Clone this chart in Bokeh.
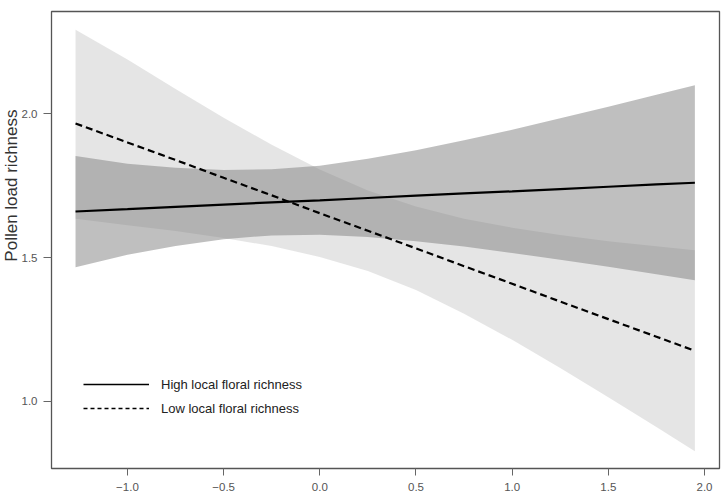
from bokeh.plotting import figure
from bokeh.models import (Range1d, FixedTicker, Title, Legend, LegendItem, ColumnDataSource)
from bokeh.embed import file_html
from bokeh.resources import INLINE

# ---- data ----
x_grid = [-1.27, -1.0, -0.75, -0.5, -0.25, 0.0, 0.25, 0.5, 0.75, 1.0, 1.25, 1.5, 1.75, 1.95]

# High local floral richness (solid line, darker band)
high_fit = [1.660, 1.668, 1.676, 1.684, 1.692, 1.699, 1.707, 1.715, 1.723, 1.730, 1.738, 1.746, 1.754, 1.760]
high_lower = [1.466, 1.510, 1.540, 1.564, 1.577, 1.579, 1.571, 1.557, 1.538, 1.516, 1.492, 1.468, 1.442, 1.421]
high_upper = [1.853, 1.826, 1.812, 1.804, 1.807, 1.819, 1.843, 1.873, 1.908, 1.944, 1.984, 2.024, 2.066, 2.099]

# Low local floral richness (dashed line, lighter band)
low_fit = [1.966, 1.900, 1.839, 1.777, 1.716, 1.654, 1.593, 1.532, 1.470, 1.409, 1.347, 1.286, 1.225, 1.176]
low_lower = [1.635, 1.612, 1.592, 1.568, 1.540, 1.502, 1.453, 1.387, 1.305, 1.214, 1.116, 1.015, 0.911, 0.827]
low_upper = [2.292, 2.188, 2.086, 1.986, 1.892, 1.806, 1.733, 1.677, 1.635, 1.604, 1.578, 1.557, 1.539, 1.525]

x_ticks = [-1.0, -0.5, 0.0, 0.5, 1.0, 1.5, 2.0]
x_tick_labels = ["\u22121.0", "\u22120.5", "0.0", "0.5", "1.0", "1.5", "2.0"]
y_ticks = [1.0, 1.5, 2.0]
y_tick_labels = ["1.0", "1.5", "2.0"]

series_labels = ["High local floral richness", "Low local floral richness"]
y_title = "Pollen load richness"

FONT = "Liberation Sans"

p = figure(width=723, height=504, output_backend="svg", toolbar_location=None,
           x_range=Range1d(-1.395, 2.078), y_range=Range1d(0.767, 2.355),
           min_border_left=51, min_border_right=4, min_border_top=11, min_border_bottom=36)
p.background_fill_color = "white"
p.border_fill_color = "white"
p.xgrid.visible = False
p.ygrid.visible = False
p.outline_line_color = "#555555"
p.outline_line_width = 1.3

src = ColumnDataSource(dict(x=x_grid, hf=high_fit, hl=high_lower, hu=high_upper,
                            lf=low_fit, ll=low_lower, lu=low_upper))

p.varea(x="x", y1="ll", y2="lu", source=src, fill_color="#cccccc", fill_alpha=0.5)
p.varea(x="x", y1="hl", y2="hu", source=src, fill_color="#7f7f7f", fill_alpha=0.5)
p.line(x="x", y="hf", source=src, line_color="black", line_width=2.2)
p.line(x="x", y="lf", source=src, line_color="black", line_width=2.2, line_dash="7 4")

# legend-only renderers (thinner lines as in the reference legend), hidden in the plot
r_leg1 = p.line(x="x", y="hf", source=src, line_color="black", line_width=1.4, visible=False)
r_leg2 = p.line(x="x", y="lf", source=src, line_color="black", line_width=1.4,
                line_dash="4 3", visible=False)

legend = Legend(items=[LegendItem(label=series_labels[0], renderers=[r_leg1]),
                       LegendItem(label=series_labels[1], renderers=[r_leg2])],
                location=(32, 50), glyph_width=66, glyph_height=20, label_height=20,
                label_standoff=12, spacing=4, padding=0, margin=0,
                border_line_color=None, background_fill_alpha=0,
                inactive_fill_alpha=0,
                label_text_font=FONT, label_text_font_size="13px", label_text_color="#222222")
p.add_layout(legend, "center")

for ax in (p.xaxis[0], p.yaxis[0]):
    ax.axis_line_color = None
    ax.major_tick_line_color = "#666666"
    ax.major_tick_in = 0
    ax.minor_tick_line_color = None
    ax.major_label_text_font = FONT
    ax.major_label_text_font_size = "11.5px"
    ax.major_label_text_color = "#555555"

p.xaxis[0].ticker = FixedTicker(ticks=x_ticks)
p.xaxis[0].major_label_overrides = dict(zip(x_ticks, x_tick_labels))
p.xaxis[0].major_tick_out = 7
p.xaxis[0].major_label_standoff = 7

p.yaxis[0].ticker = FixedTicker(ticks=y_ticks)
p.yaxis[0].major_label_overrides = dict(zip(y_ticks, y_tick_labels))
p.yaxis[0].major_tick_out = 8
p.yaxis[0].major_label_standoff = 6
p.yaxis[0].major_label_orientation = "horizontal"

p.add_layout(Title(text=y_title, align="right", offset=98, standoff=-5,
                   text_font=FONT, text_font_size="17px", text_font_style="normal",
                   text_color="#333333"), "left")

open("out.html", "w").write(file_html(p, INLINE))
